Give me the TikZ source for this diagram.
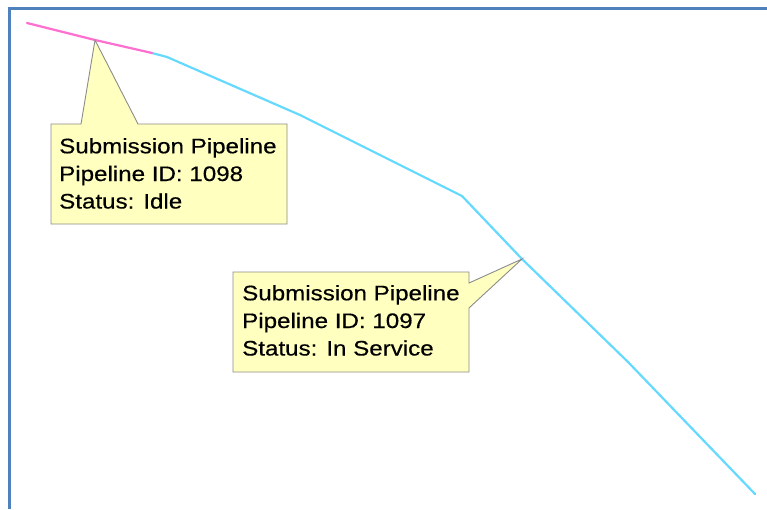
\documentclass[tikz,border=0pt]{standalone}
\usepackage{fontspec}
\setmainfont[FakeStretch=1.15,FakeBold=0.4]{Liberation Sans}
\definecolor{framblue}{HTML}{4F81BD}
\definecolor{pinkline}{HTML}{FF6FD0}
\definecolor{cyanline}{HTML}{66D9FF}
\definecolor{tipfill}{HTML}{FFFFC0}
\definecolor{tipdraw}{HTML}{8C8C8C}
\tikzset{
  pipe/.style={line width=2.2pt, line join=round, line cap=round},
  tipbox/.style={fill=tipfill, draw=tipdraw, line width=0.9pt, line join=miter},
  tiptext/.style={anchor=base west, inner sep=0pt, font=\fontsize{21}{27.5}\selectfont, text=black}
}
\begin{document}
\begin{tikzpicture}[x=1pt,y=-1pt]
\useasboundingbox (0,0) rectangle (767,509);
\fill[white] (0,0) rectangle (767,509);
% frame
\draw[framblue, line width=3pt] (9,509) -- (9,8) -- (767,8);
% pipeline vertices
\coordinate (p0) at (27,23);
\coordinate (p1) at (95,40);
\coordinate (p2) at (152,53);
\coordinate (q1) at (167,57);
\coordinate (q2) at (300,115);
\coordinate (q3) at (462,196);
\coordinate (q4) at (522,259);
\coordinate (q5) at (628,362);
\coordinate (q6) at (755,494);
\draw[pipe, cyanline] (p2) -- (q1) -- (q2) -- (q3) -- (q4) -- (q5) -- (q6);
\draw[pipe, pinkline] (p0) -- (p1) -- (p2);
% callout 1
\draw[tipbox] (51,124) -- (81,124) -- (p1) -- (138,124) -- (287,124) -- (287,224) -- (51,224) -- cycle;
\node[tiptext] (a1) at (59,153.3) {Submission Pipeline};
\node[tiptext] (a2) at (59,181) {Pipeline ID: 1098};
\node[tiptext] (a3) at (59,208.5) {Status: Idle};
% callout 2
\draw[tipbox] (233,272) -- (469,272) -- (469,283) -- (q4) -- (469,308) -- (469,372) -- (233,372) -- cycle;
\node[tiptext] (b1) at (242,300.3) {Submission Pipeline};
\node[tiptext] (b2) at (242,328) {Pipeline ID: 1097};
\node[tiptext] (b3) at (242,355.5) {Status: In Service};
\end{tikzpicture}
\end{document}
